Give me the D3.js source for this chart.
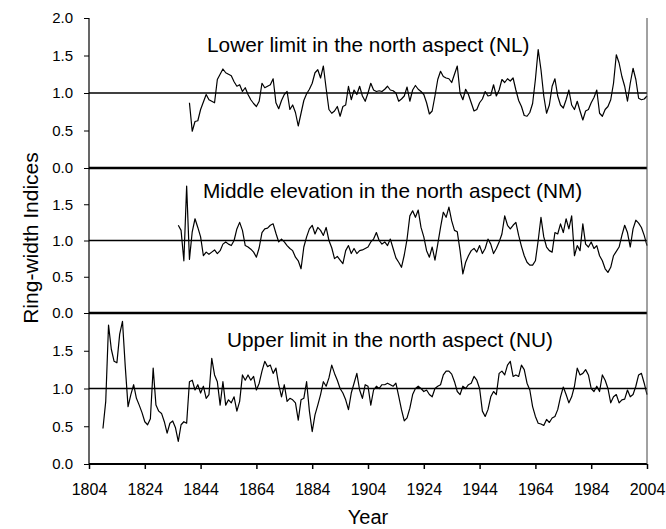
<!DOCTYPE html>
<html>
<head>
<meta charset="utf-8">
<script src="https://cdn.jsdelivr.net/npm/d3@7"></script>
<style>
  body { margin: 0; background: #fff; }
  svg text { font-family: Arial, "Liberation Sans", sans-serif; fill: #000; }
</style>
</head>
<body>
<div id="chart"></div>
<script>
// ring-width index chronologies, one value per year
var nlStart = 1840;
var nlValues = [
  0.87, 0.49, 0.62, 0.63, 0.78, 0.88, 0.98, 0.91, 0.89, 0.87,
  1.18, 1.25, 1.32, 1.27, 1.25, 1.23, 1.15, 1.09, 1.11, 1.02,
  1.07, 0.98, 0.91, 0.86, 0.82, 0.89, 1.13, 1.07, 1.09, 1.11,
  1.19, 0.87, 0.79, 0.90, 0.98, 1.02, 0.78, 0.84, 0.74, 0.56,
  0.73, 0.90, 0.99, 1.05, 1.13, 1.27, 1.31, 1.20, 1.36, 1.06,
  0.78, 0.73, 0.76, 0.82, 0.69, 0.82, 0.84, 1.09, 0.91, 1.04,
  0.98, 1.09, 0.96, 0.89, 1.00, 1.13, 1.04, 1.02, 1.03, 1.02,
  1.05, 1.09, 1.04, 1.03, 1.00, 0.89, 0.92, 0.96, 1.08, 0.89,
  1.04, 1.10, 1.05, 1.02, 0.98, 0.87, 0.72, 0.76, 0.96, 1.18,
  1.29, 1.22, 1.20, 1.19, 1.14, 1.25, 1.36, 1.00, 0.91, 1.05,
  0.98, 0.87, 0.76, 0.78, 0.87, 0.92, 1.02, 0.96, 0.97, 1.11,
  0.96, 1.04, 1.18, 1.14, 1.19, 1.16, 1.20, 1.04, 0.90, 0.82,
  0.70, 0.69, 0.74, 0.86, 1.18, 1.58, 1.31, 0.96, 0.73, 0.84,
  1.09, 1.19, 0.96, 0.84, 0.80, 0.91, 1.04, 0.84, 0.78, 0.89,
  0.76, 0.64, 0.76, 0.78, 0.87, 0.94, 1.04, 0.73, 0.69, 0.78,
  0.82, 0.91, 1.13, 1.51, 1.40, 1.22, 1.09, 0.89, 1.13, 1.33,
  1.18, 0.93, 0.91, 0.92, 0.96
];

var nmStart = 1836;
var nmValues = [
  1.21, 1.14, 0.72, 1.75,
  0.74, 1.12, 1.30, 1.18, 1.05, 0.79, 0.84, 0.81, 0.84, 0.87,
  0.82, 0.86, 0.95, 0.98, 0.95, 0.93, 1.00, 1.16, 1.25, 1.14,
  0.93, 0.91, 0.88, 0.84, 0.77, 0.90, 1.11, 1.16, 1.17, 1.21,
  1.23, 1.10, 0.98, 1.02, 0.98, 0.93, 0.89, 0.86, 0.77, 0.72,
  0.61, 0.91, 1.05, 1.16, 1.21, 1.09, 1.18, 1.14, 1.07, 1.18,
  1.00, 0.90, 0.75, 0.78, 0.73, 0.68, 0.86, 0.93, 0.82, 0.89,
  0.82, 0.86, 0.87, 0.89, 0.91, 0.98, 1.02, 1.11, 1.00, 0.95,
  0.98, 0.93, 1.02, 0.89, 0.76, 0.70, 0.63, 0.80, 1.02, 1.34,
  1.41, 1.32, 1.42, 1.18, 1.05, 0.86, 0.77, 0.91, 0.73, 0.95,
  1.18, 1.39, 1.32, 1.46, 1.27, 1.14, 1.12, 0.86, 0.54, 0.70,
  0.79, 0.86, 0.89, 0.84, 0.93, 0.82, 0.89, 1.02, 0.95, 0.82,
  0.89, 0.98, 1.09, 1.34, 1.21, 1.16, 1.21, 1.25, 1.07, 0.92,
  0.79, 0.70, 0.66, 0.66, 0.72, 1.00, 1.32, 1.05, 0.91, 0.86,
  0.84, 1.11, 1.09, 1.23, 1.11, 1.30, 1.16, 1.34, 0.79, 0.93,
  0.86, 1.23, 0.95, 0.91, 0.98, 0.89, 0.93, 0.79, 0.72, 0.61,
  0.56, 0.63, 0.79, 0.85, 0.91, 1.07, 1.21, 1.11, 0.91, 1.16,
  1.28, 1.24, 1.18, 1.07, 0.93
];

var nuStart = 1809;
var nuValues = [
  0.47,
  0.83, 1.84, 1.52, 1.36, 1.34, 1.72, 1.89, 1.29, 0.76, 0.92,
  1.05, 0.87, 0.78, 0.68, 0.56, 0.52, 0.60, 1.27, 0.78, 0.70,
  0.67, 0.56, 0.41, 0.54, 0.57, 0.48, 0.30, 0.52, 0.56, 0.54,
  1.09, 1.11, 0.98, 1.05, 0.94, 1.03, 0.87, 0.92, 1.40, 1.18,
  1.09, 0.78, 1.09, 0.78, 0.85, 0.81, 0.89, 0.70, 0.83, 1.18,
  1.11, 1.18, 1.11, 1.16, 0.98, 1.07, 1.23, 1.36, 1.29, 1.31,
  1.20, 1.27, 1.05, 0.89, 1.05, 0.83, 0.87, 0.85, 0.81, 0.58,
  0.85, 0.87, 1.09, 0.70, 0.43, 0.65, 0.78, 0.92, 1.09, 1.03,
  1.14, 1.31, 1.20, 1.11, 1.00, 0.94, 0.85, 0.72, 0.94, 1.07,
  1.20, 0.98, 0.87, 1.05, 1.03, 0.78, 0.98, 1.03, 1.00, 1.05,
  1.05, 1.07, 1.05, 1.03, 1.07, 0.90, 0.72, 0.57, 0.61, 0.74,
  0.92, 1.00, 1.03, 1.00, 0.96, 0.98, 0.92, 0.89, 1.00, 1.03,
  1.05, 1.18, 1.23, 1.23, 1.19, 1.09, 0.96, 0.92, 1.03, 1.00,
  1.05, 1.07, 1.16, 1.11, 1.00, 0.70, 0.63, 0.72, 0.89, 0.96,
  0.92, 1.20, 1.23, 1.18, 1.31, 1.36, 1.16, 1.18, 1.16, 1.31,
  1.25, 1.07, 0.98, 0.76, 0.63, 0.54, 0.53, 0.51, 0.59, 0.55,
  0.61, 0.63, 0.72, 0.89, 1.02, 0.92, 0.81, 0.89, 1.03, 1.27,
  1.18, 1.20, 1.25, 1.18, 1.00, 0.96, 1.03, 0.96, 1.18, 1.11,
  1.00, 0.81, 0.89, 0.92, 0.81, 0.85, 0.86, 0.98, 0.89, 0.92,
  1.03, 1.18, 1.20, 1.07, 0.92
];

var panelTitles = [
  'Lower limit in the north aspect (NL)',
  'Middle elevation in the north aspect (NM)',
  'Upper limit in the north aspect (NU)'
];
var yearTicks = [1804, 1824, 1844, 1864, 1884, 1904, 1924, 1944, 1964, 1984, 2004];
var topPanelTicks = [0, 0.5, 1, 1.5, 2];
var lowerPanelTicks = [0, 0.5, 1, 1.5];

var width = 666, height = 529;
var left = 89, right = 647;

var svg = d3.select('#chart').append('svg')
  .attr('width', width)
  .attr('height', height);

svg.append('rect').attr('width', width).attr('height', height).attr('fill', '#fff');

var x = d3.scaleLinear().domain([1804, 2004]).range([left, right]);

function toPoints(start, values) {
  return values.map(function(v, i) { return { year: start + i, value: v }; });
}

// panel frames (pixel bands), top to bottom
var panels = [
  { top: 18, bottom: 168, series: toPoints(nlStart, nlValues), ticks: topPanelTicks, tx: 207, ty: 52 },
  { top: 168, bottom: 313, series: toPoints(nmStart, nmValues), ticks: lowerPanelTicks, tx: 203, ty: 198 },
  { top: 313, bottom: 464, series: toPoints(nuStart, nuValues), ticks: lowerPanelTicks, tx: 227, ty: 347 }
];

panels.forEach(function(p, i) {
  var y = d3.scaleLinear().domain([0, 2]).range([p.bottom, p.top]);

  // 1.0 reference line
  svg.append('line')
    .attr('x1', left).attr('x2', right)
    .attr('y1', y(1)).attr('y2', y(1))
    .attr('stroke', '#000')
    .attr('stroke-width', 1.6);

  svg.append('path')
    .datum(p.series)
    .attr('fill', 'none')
    .attr('stroke', '#000')
    .attr('stroke-width', 1.2)
    .attr('stroke-linejoin', 'round')
    .attr('d', d3.line()
      .x(function(d) { return x(d.year); })
      .y(function(d) { return y(d.value); }));

  var axis = svg.append('g')
    .attr('transform', 'translate(' + left + ',0)')
    .call(d3.axisLeft(y)
      .tickValues(p.ticks)
      .tickSize(5)
      .tickPadding(11)
      .tickFormat(d3.format('.1f')));
  axis.select('.domain').remove();
  axis.selectAll('line').attr('stroke', '#000');
  axis.selectAll('text').style('font-size', '15px').attr('fill', '#000');

  svg.append('text')
    .attr('x', p.tx)
    .attr('y', p.ty)
    .style('font-size', '20.8px')
    .text(panelTitles[i]);

  // heavy separator under the upper panels
  if (i < panels.length - 1) {
    svg.append('line')
      .attr('x1', left).attr('x2', right)
      .attr('y1', p.bottom).attr('y2', p.bottom)
      .attr('stroke', '#000')
      .attr('stroke-width', 2.6);
  }
});

// x axis
var xAxis = svg.append('g')
  .attr('transform', 'translate(0,464)')
  .call(d3.axisBottom(x)
    .tickValues(yearTicks)
    .tickSize(5)
    .tickPadding(15)
    .tickFormat(d3.format('d')));
xAxis.select('.domain').remove();
xAxis.selectAll('line').attr('stroke', '#000').attr('stroke-width', 1.5);
xAxis.selectAll('text').style('font-size', '16px').attr('fill', '#000');

svg.append('line')
  .attr('x1', left).attr('x2', right)
  .attr('y1', 464).attr('y2', 464)
  .attr('stroke', '#000')
  .attr('stroke-width', 1.8);

// left axis and right frame
svg.append('line')
  .attr('x1', left).attr('x2', left)
  .attr('y1', 18).attr('y2', 464)
  .attr('stroke', '#000')
  .attr('stroke-width', 1.2);
svg.append('line')
  .attr('x1', right).attr('x2', right)
  .attr('y1', 18).attr('y2', 464)
  .attr('stroke', '#444')
  .attr('stroke-width', 1);

svg.append('text')
  .attr('x', (left + right) / 2)
  .attr('y', 524)
  .attr('text-anchor', 'middle')
  .style('font-size', '20px')
  .text('Year');

svg.append('text')
  .attr('transform', 'translate(38,238) rotate(-90)')
  .attr('text-anchor', 'middle')
  .style('font-size', '21px')
  .text('Ring-width Indices');
</script>
</body>
</html>
